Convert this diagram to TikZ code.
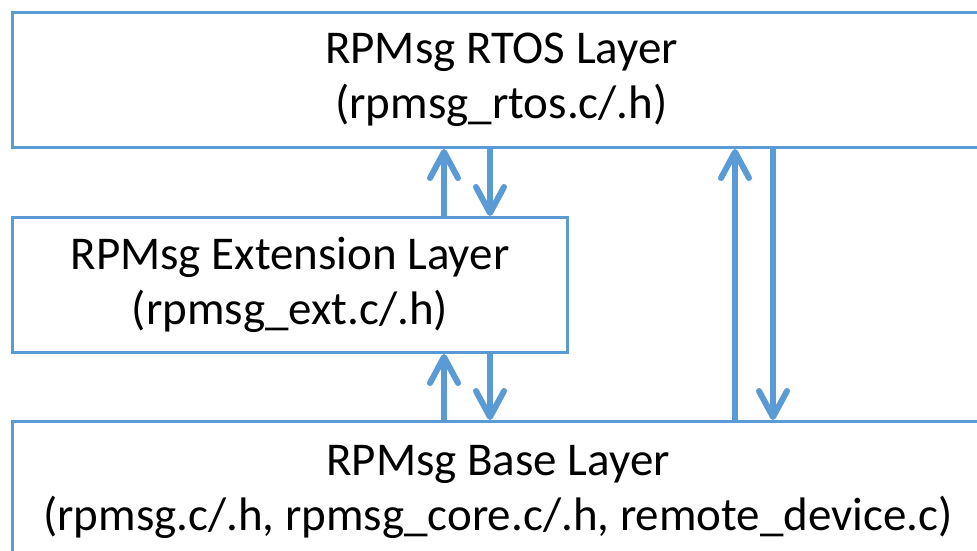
\documentclass[tikz,border=0pt]{standalone}
\usepackage{fontspec}
\setmainfont{Carlito}
\usetikzlibrary{arrows.meta}
\definecolor{lblue}{HTML}{5B9BD5}
\begin{document}
\begin{tikzpicture}[x=1pt,y=-1pt,
  layerbox/.style={draw=lblue, line width=3pt, fill=white, rectangle, inner sep=0pt,
    anchor=north west, align=center, font=\fontsize{47}{55}\selectfont},
  conn/.style={draw=lblue, line width=6pt, -{Straight Barb[length=26pt,width=28pt,round]}}]
\useasboundingbox (0,0) rectangle (977,550);
\clip (0,0) rectangle (977,550);
\fill[white] (0,0) rectangle (977,550);
\node[layerbox, minimum width=978pt, minimum height=135pt] (rtos) at (11,11)
  {RPMsg RTOS Layer\\(rpmsg\_rtos.c/.h)};
\node[layerbox, minimum width=555pt, minimum height=135pt] (ext) at (11,216)
  {RPMsg Extension Layer\\(rpmsg\_ext.c/.h)};
\node[layerbox, minimum width=971pt, minimum height=141pt] (base) at (11,420)
  {RPMsg Base Layer\\(rpmsg.c/.h, rpmsg\_core.c/.h, remote\_device.c)};
\coordinate (xa) at (444,0);
\coordinate (xb) at (490,0);
\coordinate (xc) at (735,0);
\coordinate (xd) at (773,0);
\draw[conn] (ext.north -| xa) -- (rtos.south -| xa);
\draw[conn] (rtos.south -| xb) -- (ext.north -| xb);
\draw[conn] (base.north -| xa) -- (ext.south -| xa);
\draw[conn] (ext.south -| xb) -- (base.north -| xb);
\draw[conn] (base.north -| xc) -- (rtos.south -| xc);
\draw[conn] (rtos.south -| xd) -- (base.north -| xd);
\end{tikzpicture}
\end{document}
